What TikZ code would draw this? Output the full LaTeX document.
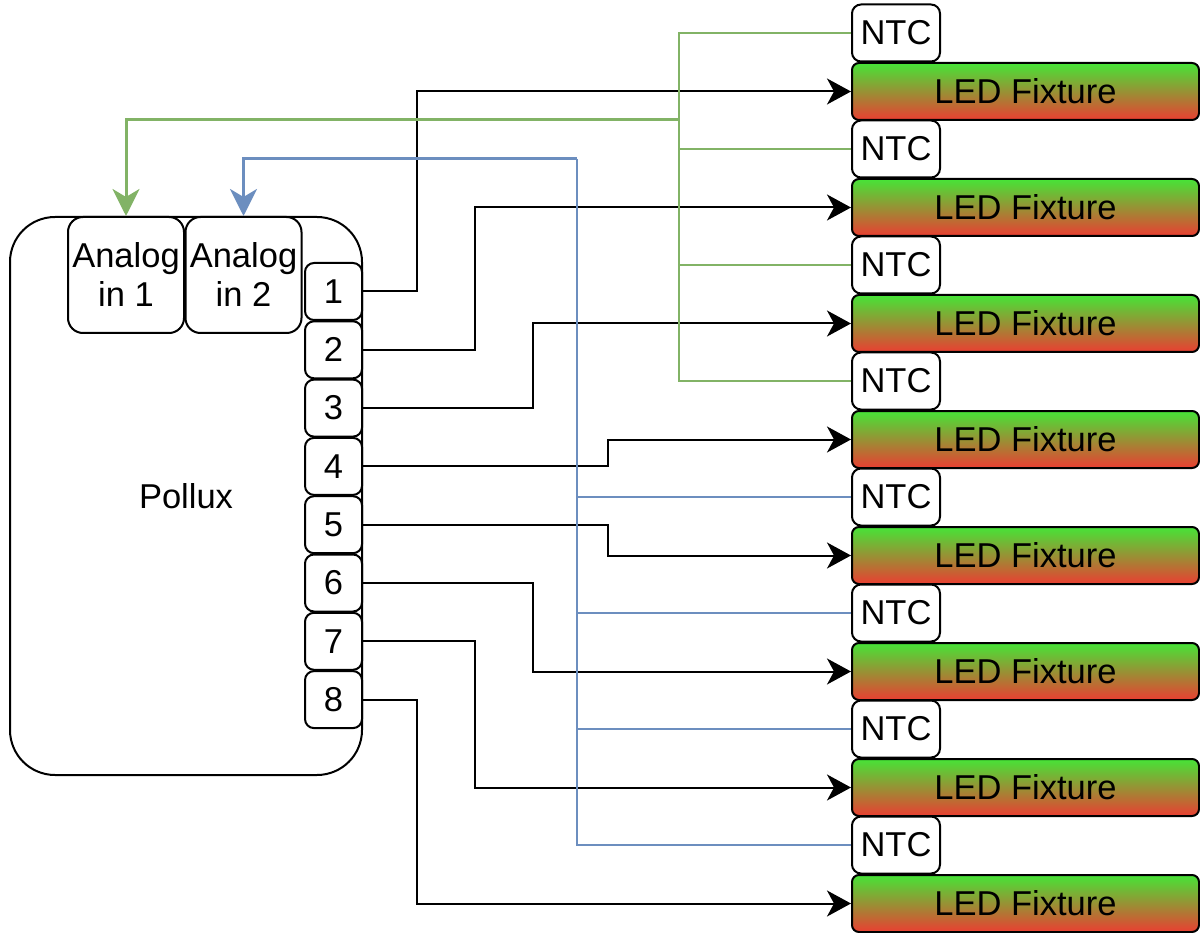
\documentclass[tikz,border=0pt]{standalone}
\usepackage{fontspec}
\setmainfont{Liberation Sans}
\usetikzlibrary{arrows.meta, positioning}
\definecolor{ledgreen}{RGB}{70,228,55}
\definecolor{ledred}{RGB}{234,62,50}
\definecolor{ntcgreen}{RGB}{130,179,102}
\definecolor{ntcblue}{RGB}{108,142,191}

\begin{document}
\begin{tikzpicture}[x=1pt, y=-1pt, font=\fontsize{34.5}{39}\selectfont, line width=2pt,
    box/.style={draw, rounded corners=9pt, fill=white, inner sep=0pt},
    pin/.style={box, minimum width=57pt, minimum height=57pt},
    ntc/.style={box, minimum width=88pt, minimum height=57pt},
    analog/.style={box, rounded corners=15pt, minimum width=116pt, minimum height=116pt, align=center},
    led/.style={box, rounded corners=7pt, minimum width=347pt, minimum height=57pt, top color=ledgreen, bottom color=ledred},
    wire/.style={-{Stealth[length=24pt, width=26pt, inset=7pt]}},
    gwire/.style={draw=ntcgreen, line width=2.2pt},
    bwire/.style={draw=ntcblue, line width=2.2pt},
    sense/.style={line width=3pt, -{Stealth[length=27pt, width=27pt, inset=8pt]}}]
    \useasboundingbox (0,0) rectangle (1200,933);

    % controller
    \node[draw, rounded corners=45pt, minimum width=352pt, minimum height=558pt, inner sep=0pt] (pollux) at (186,496) {Pollux};
    \node[analog] (ain1) at (126,275) {Analog\\in 1};
    \node[analog] (ain2) at (243.5,275) {Analog\\in 2};
    \foreach \i in {1,...,8}
        \node[pin] (p\i) at (333.5,{291.5+58.3*(\i-1)}) {\i};

    % fixtures with their sensors
    \foreach \i in {1,...,8} {
        \node[ntc] (ntc\i) at (896,{33+116*(\i-1)}) {NTC};
        \node[led] (led\i) at (1025.5,{91.5+116*(\i-1)}) {LED Fixture};
    }

    % outputs
    \foreach \i/\dx in {1/54, 2/112, 3/170, 4/245, 5/245, 6/170, 7/112, 8/54}
        \draw[wire] (p\i.east) -- ++(\dx,0) |- (led\i.west);

    % sensor buses
    \coordinate (gturn) at (679,120);
    \coordinate (bturn) at (577,159);
    \draw[gwire] (ntc1.west) -| (gturn) |- (ntc4.west);
    \draw[gwire] (ntc2.west) -- (gturn |- ntc2.west);
    \draw[gwire] (ntc3.west) -- (gturn |- ntc3.west);
    \draw[gwire, sense] (gturn) -| (ain1.north);
    \draw[bwire] (bturn) |- (ntc8.west);
    \draw[bwire] (ntc5.west) -- (bturn |- ntc5.west);
    \draw[bwire] (ntc6.west) -- (bturn |- ntc6.west);
    \draw[bwire] (ntc7.west) -- (bturn |- ntc7.west);
    \draw[bwire, sense] (bturn) -| (ain2.north);
\end{tikzpicture}
\end{document}
